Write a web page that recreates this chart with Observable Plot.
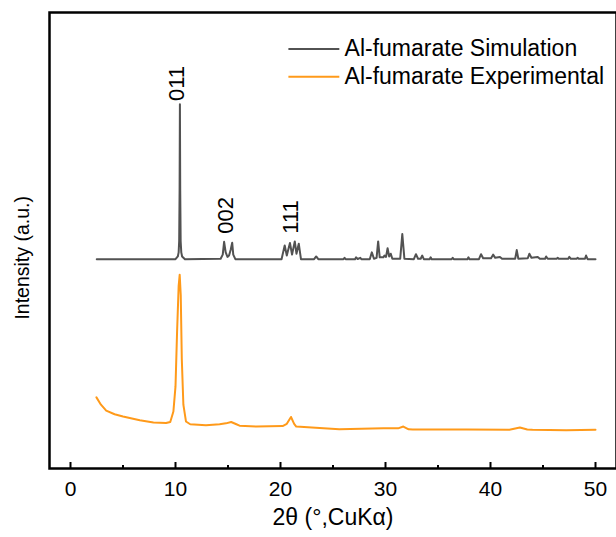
<!DOCTYPE html>
<html><head><meta charset="utf-8">
<script src="https://cdn.jsdelivr.net/npm/d3@7"></script>
<script src="https://cdn.jsdelivr.net/npm/@observablehq/plot@0.6"></script>
<style>body{margin:0;background:#fff}#chart svg{display:block}</style>
</head><body><div id="chart"></div>
<script>
// Simulated pattern: 2θ and relative intensity above its own baseline
const simTheta = [2.5,10.0,10.22,10.3,10.35,10.39,10.42,10.45,10.49,10.55,10.63,10.9,
 14.3,14.5,14.63,14.78,14.95,15.1,15.25,15.4,15.5,15.7,
 20.1,20.4,20.6,20.9,21.1,21.36,21.52,21.74,21.95,
 23.2,23.4,23.6,26.0,26.1,26.2,27.1,27.2,27.35,27.6,27.7,
 28.5,28.7,28.9,29.15,29.3,29.45,29.8,29.9,30.05,30.2,30.35,30.5,30.65,
 31.4,31.6,31.8,32.7,32.9,33.1,33.35,33.5,33.65,34.2,34.3,34.4,
 36.3,36.4,36.5,37.8,37.9,38.0,38.9,39.1,39.3,40.05,40.25,40.45,40.9,41.1,
 42.35,42.5,42.65,43.55,43.7,43.9,44.5,44.7,45.2,45.3,45.45,46.3,46.4,46.5,
 47.4,47.5,47.65,48.2,48.3,48.4,49.0,49.1,49.25,50.0];
const simRel = [0,0,0.6,1.5,4,15,34,15,4,1.5,0.6,0,
 0.1,1.0,3.8,1.5,0.5,0.8,2.0,3.6,1.0,0,
 0,3.0,0.8,3.55,1.0,3.9,1.2,3.4,0,
 0,0.6,0,0,0.3,0,0,0.4,0.05,0.3,0,
 0,1.5,0.1,0.3,3.9,0.4,0.4,0.8,0.5,2.4,0.6,1.2,0.1,
 0.1,5.5,0.1,0,1.1,0.1,0.1,0.8,0,0,0.4,0,
 0,0.3,0,0,0.4,0,0,1.1,0.2,0.2,1.0,0.3,0.5,0.1,
 0.1,2.0,0.1,0.2,1.2,0.3,0.5,0.1,0.1,0.6,0.1,0.1,0.3,0.1,
 0.1,0.5,0.1,0.1,0.3,0.1,0.1,0.8,0,0];
const simOffset = 45.9;

// Experimental pattern
const expTheta = [2.47,2.9,3.4,4.2,5.0,6.6,7.9,9.1,9.5,9.8,10.0,10.15,10.3,10.4,10.5,10.6,10.75,11.0,11.4,
 12.9,14.2,14.8,15.3,15.8,16.1,17.7,20.2,20.6,21.0,21.3,21.5,24.1,25.6,29.8,31.2,31.7,32.2,32.6,
 37.7,41.8,42.8,43.5,44.0,47.2,50.0];
const expIntensity = [15.6,14.0,12.7,11.9,11.4,10.6,10.1,9.96,10.2,12.5,18,30,40,42.5,38,24,14,10.3,9.7,
 9.5,9.7,9.9,10.2,9.7,9.4,9.2,9.3,9.8,11.3,9.8,9.2,8.8,8.6,8.8,8.8,9.2,8.6,8.55,
 8.55,8.5,9.0,8.55,8.5,8.4,8.5];

// Peak annotations
const peakLabels = ["011","002","111"];
const peakLabelTheta = [10.1,14.85,21.0];
const peakLabelY = [80.6,51.5,51.5];

// Legend
const seriesNames = ["Al-fumarate Simulation","Al-fumarate Experimental"];
const seriesColors = ["#525252","#ff9a1a"];
const legendY = [92.0,85.9];

const majorTicks = [0,10,20,30,40,50];
const minorTicks = [5,15,25,35,45];

const sim = simTheta.map((t,i)=>({t, v: simRel[i] + simOffset}));
const exp = expTheta.map((t,i)=>({t, v: expIntensity[i]}));
const peaks = peakLabels.map((s,i)=>({s, t: peakLabelTheta[i], v: peakLabelY[i]}));
const legend = seriesNames.map((s,i)=>({s, c: seriesColors[i], v: legendY[i]}));

const font = "'Liberation Sans', Arial, sans-serif";
const chart = Plot.plot({
  width: 616, height: 537,
  marginLeft: 49, marginRight: 0, marginTop: 12, marginBottom: 69,
  style: {fontFamily: font, background: "#fff", color: "#000"},
  x: {domain: [-2, 52]},
  y: {domain: [0, 100], axis: null},
  marks: [
    Plot.line(sim, {x: "t", y: "v", stroke: seriesColors[0], strokeWidth: 2}),
    Plot.line(exp, {x: "t", y: "v", stroke: seriesColors[1], strokeWidth: 2}),
    Plot.text(peaks, {x: "t", y: "v", text: "s", rotate: -90, textAnchor: "start", lineAnchor: "middle", fontSize: 22, fill: "#000"}),
    Plot.ruleY(legend, {y: "v", x1: 20.8, x2: 25.65, stroke: "c", strokeWidth: 2}),
    Plot.text(legend, {y: "v", x: 26.1, text: "s", textAnchor: "start", fontSize: 23, fill: "#000"}),
    Plot.text(["Intensity (a.u.)"], {frameAnchor: "left", y: 46.2, rotate: -90, dx: -27, textAnchor: "middle", fontSize: 19.5, fill: "#000"}),
    Plot.axisX({ticks: majorTicks, tickSize: -6, tickPadding: 19, fontSize: 21, strokeWidth: 2, label: null}),
    Plot.axisX({ticks: minorTicks, tickSize: -3, tickFormat: () => "", strokeWidth: 2, label: null}),
    Plot.text(["2θ (°,CuKα)"], {frameAnchor: "bottom", dy: 56, fontSize: 23, fill: "#000"}),
    Plot.frame({stroke: "#000", strokeWidth: 2.5})
  ]
});
document.getElementById("chart").append(chart);
</script>
</body></html>
